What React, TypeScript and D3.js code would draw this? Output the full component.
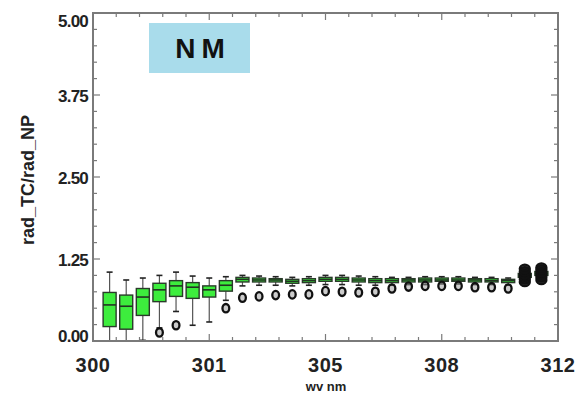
import React from "react";
import * as d3 from "d3";

const tickLabelsX = ["300", "301", "305", "308", "312"];
const tickValuesY = [0, 1.25, 2.5, 3.75, 5];

const q1 = [0.22, 0.18, 0.39, 0.60, 0.68, 0.65, 0.67, 0.76, 0.90, 0.90, 0.90, 0.88, 0.89, 0.91, 0.91, 0.90, 0.89, 0.89, 0.90, 0.90, 0.91, 0.91, 0.90, 0.90, 0.89, 0.97, 1.00];
const med = [0.55, 0.53, 0.67, 0.78, 0.84, 0.82, 0.78, 0.85, 0.94, 0.93, 0.93, 0.91, 0.92, 0.94, 0.94, 0.93, 0.92, 0.92, 0.93, 0.93, 0.93, 0.93, 0.93, 0.92, 0.92, 1.00, 1.03];
const q3 = [0.74, 0.70, 0.80, 0.88, 0.92, 0.89, 0.84, 0.92, 0.97, 0.96, 0.95, 0.94, 0.95, 0.97, 0.97, 0.96, 0.95, 0.95, 0.95, 0.96, 0.96, 0.96, 0.95, 0.95, 0.94, 1.03, 1.06];
const whiskerLo = [0.0, 0.0, 0.01, 0.20, 0.45, 0.24, 0.29, 0.62, 0.84, 0.85, 0.85, 0.84, 0.85, 0.86, 0.86, 0.85, 0.85, 0.85, 0.86, 0.86, 0.87, 0.87, 0.86, 0.86, 0.85, 0.93, 0.96];
const whiskerHi = [1.05, 0.93, 0.96, 1.00, 1.05, 0.99, 0.96, 0.98, 1.00, 0.99, 0.98, 0.97, 0.98, 1.00, 1.00, 0.99, 0.98, 0.97, 0.97, 0.98, 0.98, 0.98, 0.97, 0.97, 0.96, 1.07, 1.10];
const outliers: number[][] = [
  [], [], [], [0.13], [0.24], [], [], [0.5], [0.66], [0.68], [0.7], [0.71], [0.71], [0.76], [0.75], [0.74], [0.75], [0.8], [0.83], [0.84], [0.84], [0.84], [0.82], [0.82], [0.8],
  [0.9, 0.94, 0.98, 1.02, 1.06, 1.1], [0.93, 0.97, 1.01, 1.05, 1.09, 1.12],
];

const W = 579, H = 395;
const L = 93, R = 558, T = 13, B = 341;

export default function App() {
  const n = q1.length;
  const x = d3.scaleLinear().domain([0, n + 1]).range([L, R]);
  const y = d3.scaleLinear().domain([0, 5]).range([B, T]);
  const majorX = d3.range(tickLabelsX.length).map((i) => (i * (n + 1)) / (tickLabelsX.length - 1));
  const minorX = d3.range(0, 21).map((i) => (i * (n + 1)) / 20).filter((_, i) => i % 5 !== 0);
  const minorY = d3.range(0, 21).map((i) => i * 0.25).filter((_, i) => i % 5 !== 0);
  const axisColor = "#7a7a7a";
  const bw = 13;
  const font = "'Liberation Sans', Arial, sans-serif";

  return (
    <svg width={W} height={H} style={{ position: "absolute", left: 0, top: 0, background: "#fff" }}>
      <defs>
        <clipPath id="plot">
          <rect x={L} y={T} width={R - L} height={B - T} />
        </clipPath>
      </defs>
      <rect x={0} y={0} width={W} height={H} fill="#fff" />
      {/* title box */}
      <rect x={149} y={23} width={101} height={50} fill="#a9dceb" />
      <text x={203} y={58} textAnchor="middle" fontFamily={font} fontSize={28} fontWeight="bold" fill="#111" letterSpacing={6}>NM</text>

      {/* boxes */}
      <g clipPath="url(#plot)">
        {q1.map((_, i) => {
          const cx = x(i + 1);
          const big = outliers[i].length > 2;
          return (
            <g key={i}>
              <line x1={cx} x2={cx} y1={y(whiskerHi[i])} y2={y(q3[i])} stroke="#555" strokeWidth={1.2} />
              <line x1={cx} x2={cx} y1={y(q1[i])} y2={y(whiskerLo[i])} stroke="#555" strokeWidth={1.2} />
              <line x1={cx - 3} x2={cx + 3} y1={y(whiskerHi[i])} y2={y(whiskerHi[i])} stroke="#222" strokeWidth={1.6} />
              <line x1={cx - 3} x2={cx + 3} y1={y(whiskerLo[i])} y2={y(whiskerLo[i])} stroke="#222" strokeWidth={1.6} />
              <rect x={cx - bw / 2} y={y(q3[i])} width={bw} height={Math.max(1, y(q1[i]) - y(q3[i]))} fill="#3ded3d" stroke="#2a3a2a" strokeWidth={1.4} />
              <line x1={cx - bw / 2} x2={cx + bw / 2} y1={y(med[i])} y2={y(med[i])} stroke="#223322" strokeWidth={1.6} />
              {outliers[i].map((o, j) => (
                <ellipse key={j} cx={cx} cy={y(o)} rx={big ? 5 : 3.4} ry={4.2} fill={big ? "#111" : "#999"} fillOpacity={big ? 0.8 : 0.5} stroke="#111" strokeWidth={2.3} />
              ))}
            </g>
          );
        })}
      </g>

      {/* frame */}
      <rect x={L} y={T} width={R - L} height={B - T} fill="none" stroke={axisColor} strokeWidth={2} />
      {/* y ticks */}
      {tickValuesY.map((t) => (
        <g key={"ym" + t}>
          <line x1={L} x2={L + 7} y1={y(t)} y2={y(t)} stroke={axisColor} strokeWidth={1.2} />
          <line x1={R} x2={R - 7} y1={y(t)} y2={y(t)} stroke={axisColor} strokeWidth={1.2} />
          <text x={88} y={Math.min(B + 1, Math.max(T + 14, y(t) + 7))} textAnchor="end" fontFamily={font} fontSize={17} fontWeight="bold" letterSpacing={-0.8} fill="#222">{t.toFixed(2)}</text>
        </g>
      ))}
      {minorY.map((t) => (
        <g key={"yn" + t}>
          <line x1={L} x2={L + 4} y1={y(t)} y2={y(t)} stroke={axisColor} strokeWidth={1.2} />
          <line x1={R} x2={R - 4} y1={y(t)} y2={y(t)} stroke={axisColor} strokeWidth={1.2} />
        </g>
      ))}
      {/* x ticks */}
      {majorX.map((t, i) => (
        <g key={"xm" + i}>
          <line x1={x(t)} x2={x(t)} y1={B} y2={B - 7} stroke={axisColor} strokeWidth={1.2} />
          <line x1={x(t)} x2={x(t)} y1={T} y2={T + 7} stroke={axisColor} strokeWidth={1.2} />
          <text x={x(t)} y={372} textAnchor="middle" fontFamily={font} fontSize={20} fontWeight="bold" fill="#222" letterSpacing={0.5}>{tickLabelsX[i]}</text>
        </g>
      ))}
      {minorX.map((t, i) => (
        <g key={"xn" + i}>
          <line x1={x(t)} x2={x(t)} y1={B} y2={B - 4} stroke={axisColor} strokeWidth={1.2} />
          <line x1={x(t)} x2={x(t)} y1={T} y2={T + 4} stroke={axisColor} strokeWidth={1.2} />
        </g>
      ))}

      {/* axis titles */}
      <text transform={`translate(34,180) rotate(-90)`} textAnchor="middle" fontFamily={font} fontSize={18} fontWeight="bold" fill="#222">rad_TC/rad_NP</text>
      <text x={326} y={391} textAnchor="middle" fontFamily={font} fontSize={13} fontWeight="bold" fill="#222">wv nm</text>
    </svg>
  );
}
